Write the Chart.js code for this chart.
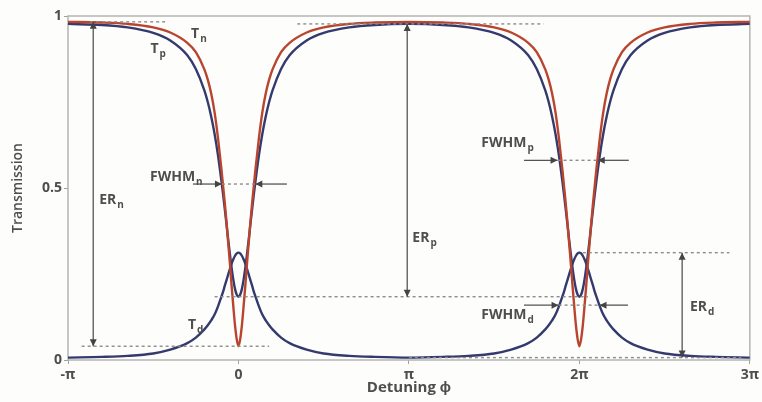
<!DOCTYPE html>
<html>
<head>
<meta charset="utf-8">
<script src="https://cdn.jsdelivr.net/npm/chart.js@4.4.1/dist/chart.umd.min.js"></script>
<style>
  html, body { margin: 0; padding: 0; background: #fdfdfb; }
  canvas { display: block; }
</style>
</head>
<body>
<canvas id="graficoAnillo" width="762" height="402"></canvas>
<script>
// Desintonía en unidades de π (de -π a 3π)
const fase = [
  -1, -0.8, -0.65, -0.5, -0.4, -0.3, -0.25, -0.2, -0.18, -0.16, -0.14, -0.12,
  -0.1, -0.09, -0.08, -0.07, -0.06, -0.05, -0.04, -0.03, -0.02, -0.01, 0,
  0.01, 0.02, 0.03, 0.04, 0.05, 0.06, 0.07, 0.08, 0.09, 0.1, 0.12, 0.14,
  0.16, 0.18, 0.2, 0.25, 0.3, 0.4, 0.5, 0.65, 0.8, 1,
  1.2, 1.35, 1.5, 1.6, 1.7, 1.75, 1.8, 1.82, 1.84, 1.86, 1.88, 1.9,
  1.91, 1.92, 1.93, 1.94, 1.95, 1.96, 1.97, 1.98, 1.99, 2,
  2.01, 2.02, 2.03, 2.04, 2.05, 2.06, 2.07, 2.08, 2.09, 2.1, 2.12, 2.14,
  2.16, 2.18, 2.2, 2.25, 2.3, 2.4, 2.5, 2.65, 2.8, 3
];

// T_n (rojo)
const transN = [
  0.983, 0.981, 0.977, 0.967, 0.952, 0.922, 0.895, 0.845, 0.815, 0.775, 0.72, 0.645,
  0.555, 0.505, 0.455, 0.40, 0.34, 0.28, 0.215, 0.155, 0.10, 0.06, 0.04,
  0.06, 0.10, 0.155, 0.215, 0.28, 0.34, 0.40, 0.455, 0.505, 0.555, 0.645, 0.72,
  0.775, 0.815, 0.845, 0.895, 0.922, 0.952, 0.967, 0.977, 0.981, 0.983,
  0.981, 0.977, 0.967, 0.952, 0.922, 0.895, 0.845, 0.815, 0.775, 0.72, 0.645, 0.555,
  0.505, 0.455, 0.40, 0.34, 0.28, 0.215, 0.155, 0.10, 0.06, 0.04,
  0.06, 0.10, 0.155, 0.215, 0.28, 0.34, 0.40, 0.455, 0.505, 0.555, 0.645, 0.72,
  0.775, 0.815, 0.845, 0.895, 0.922, 0.952, 0.967, 0.977, 0.981, 0.983
];

// T_p (azul, puerto de paso)
const transP = [
  0.977, 0.974, 0.967, 0.951, 0.929, 0.886, 0.846, 0.784, 0.750, 0.708, 0.657, 0.595,
  0.521, 0.481, 0.438, 0.394, 0.349, 0.307, 0.267, 0.233, 0.206, 0.190, 0.184,
  0.190, 0.206, 0.233, 0.267, 0.307, 0.349, 0.394, 0.438, 0.481, 0.521, 0.595, 0.657,
  0.708, 0.750, 0.784, 0.846, 0.886, 0.929, 0.951, 0.967, 0.974, 0.977,
  0.974, 0.967, 0.951, 0.929, 0.886, 0.846, 0.784, 0.750, 0.708, 0.657, 0.595, 0.521,
  0.481, 0.438, 0.394, 0.349, 0.307, 0.267, 0.233, 0.206, 0.190, 0.184,
  0.190, 0.206, 0.233, 0.267, 0.307, 0.349, 0.394, 0.438, 0.481, 0.521, 0.595, 0.657,
  0.708, 0.750, 0.784, 0.846, 0.886, 0.929, 0.951, 0.967, 0.974, 0.977
];

// T_d (azul, puerto de caída)
const transD = [
  0.007, 0.009, 0.012, 0.019, 0.030, 0.049, 0.065, 0.089, 0.101, 0.115, 0.132, 0.156,
  0.184, 0.199, 0.216, 0.232, 0.249, 0.265, 0.280, 0.293, 0.303, 0.310, 0.312,
  0.310, 0.303, 0.293, 0.280, 0.265, 0.249, 0.232, 0.216, 0.199, 0.184, 0.156, 0.132,
  0.115, 0.101, 0.089, 0.065, 0.049, 0.030, 0.019, 0.012, 0.009, 0.007,
  0.009, 0.012, 0.019, 0.030, 0.049, 0.065, 0.089, 0.101, 0.115, 0.132, 0.156, 0.184,
  0.199, 0.216, 0.232, 0.249, 0.265, 0.280, 0.293, 0.303, 0.310, 0.312,
  0.310, 0.303, 0.293, 0.280, 0.265, 0.249, 0.232, 0.216, 0.199, 0.184, 0.156, 0.132,
  0.115, 0.101, 0.089, 0.065, 0.049, 0.030, 0.019, 0.012, 0.009, 0.007
];

const ticksFase = [-1, 0, 1, 2, 3];
const etiquetasFase = ['-π', '0', 'π', '2π', '3π'];
const ticksTrans = [0, 0.5, 1];
const etiquetasTrans = ['0', '0.5', '1'];

const ROJO = '#b9452f';
const AZUL = '#343a6e';
const GRIS = '#4e4e4e';
const FUENTE = "'Open Sans', sans-serif";

function puntos(valores) {
  return fase.map((f, i) => ({ x: f, y: valores[i] }));
}

// Marco gris alrededor del área del gráfico
const marco = {
  id: 'marco',
  beforeDatasetsDraw(chart) {
    const { ctx, chartArea: a } = chart;
    ctx.save();
    ctx.strokeStyle = '#b4b4b4';
    ctx.lineWidth = 1.5;
    ctx.strokeRect(a.left, a.top, a.right - a.left, a.bottom - a.top);
    ctx.restore();
  }
};

// Flechas, líneas discontinuas y rótulos (ER, FWHM, T)
const anotaciones = {
  id: 'anotaciones',
  afterDatasetsDraw(chart) {
    const { ctx, scales: { x, y } } = chart;
    const px = v => x.getPixelForValue(v);
    const py = v => y.getPixelForValue(v);

    const nMax = Math.max(...transN), nMin = Math.min(...transN);
    const pMax = Math.max(...transP), pMin = Math.min(...transP);
    const dMax = Math.max(...transD), dMin = Math.min(...transD);

    function linea(x1, y1, x2, y2, discontinua) {
      ctx.save();
      ctx.beginPath();
      if (discontinua) {
        ctx.setLineDash([3, 3]);
        ctx.strokeStyle = '#8c8c8c';
        ctx.lineWidth = 1.4;
      } else {
        ctx.strokeStyle = '#555';
        ctx.lineWidth = 1.3;
      }
      ctx.moveTo(px(x1), py(y1));
      ctx.lineTo(px(x2), py(y2));
      ctx.stroke();
      ctx.restore();
    }

    function punta(xv, yv, dir) {
      const X = px(xv), Y = py(yv), l = 7, w = 3.5;
      ctx.save();
      ctx.fillStyle = '#444';
      ctx.beginPath();
      ctx.moveTo(X, Y);
      if (dir === 'arriba') { ctx.lineTo(X - w, Y + l); ctx.lineTo(X + w, Y + l); }
      if (dir === 'abajo') { ctx.lineTo(X - w, Y - l); ctx.lineTo(X + w, Y - l); }
      if (dir === 'derecha') { ctx.lineTo(X - l, Y - w); ctx.lineTo(X - l, Y + w); }
      if (dir === 'izquierda') { ctx.lineTo(X + l, Y - w); ctx.lineTo(X + l, Y + w); }
      ctx.closePath();
      ctx.fill();
      ctx.restore();
    }

    function texto(base, sub, xv, yv, alinear) {
      ctx.save();
      ctx.fillStyle = GRIS;
      ctx.textBaseline = 'middle';
      ctx.font = 'bold 14px ' + FUENTE;
      const wb = ctx.measureText(base).width;
      ctx.font = 'bold 10px ' + FUENTE;
      const ws = ctx.measureText(sub).width;
      let X = px(xv);
      if (alinear === 'derecha') X -= wb + ws + 1;
      const Y = py(yv);
      ctx.font = 'bold 14px ' + FUENTE;
      ctx.fillText(base, X, Y);
      ctx.font = 'bold 10px ' + FUENTE;
      ctx.fillText(sub, X + wb + 1, Y + 5);
      ctx.restore();
    }

    function flechaVertical(xv, arriba, abajo) {
      linea(xv, arriba, xv, abajo, false);
      punta(xv, arriba, 'arriba');
      punta(xv, abajo, 'abajo');
    }

    function fwhm(nivel, exterior1, punta1, punta2, exterior2) {
      linea(exterior1, nivel, punta1, nivel, false);
      linea(punta1, nivel, punta2, nivel, true);
      linea(exterior2, nivel, punta2, nivel, false);
      punta(punta1, nivel, 'derecha');
      punta(punta2, nivel, 'izquierda');
    }

    // líneas de referencia discontinuas
    linea(-0.87, nMax, -0.43, nMax, true);
    linea(-0.92, nMin, 0.18, nMin, true);
    linea(0.345, pMax, 1.79, pMax, true);
    linea(-0.14, pMin, 2.05, pMin, true);
    linea(2.02, dMax, 2.88, dMax, true);
    linea(1.0, dMin, 2.95, dMin, true);

    // relaciones de extinción
    flechaVertical(-0.852, nMax, nMin);
    flechaVertical(0.99, pMax, pMin);
    flechaVertical(2.603, dMax, dMin);

    // anchos a media altura
    fwhm((nMax + nMin) / 2, -0.267, -0.097, 0.099, 0.284);
    fwhm((pMax + pMin) / 2, 1.675, 1.872, 2.108, 2.29);
    fwhm((dMax + dMin) / 2, 1.675, 1.878, 2.118, 2.285);

    texto('T', 'n', -0.278, 0.948);
    texto('T', 'p', -0.516, 0.904);
    texto('T', 'd', -0.296, 0.102);
    texto('FWHM', 'n', -0.21, 0.532, 'derecha');
    texto('FWHM', 'p', 1.425, 0.631);
    texto('FWHM', 'd', 1.425, 0.131);
    texto('ER', 'n', -0.817, 0.465);
    texto('ER', 'p', 1.02, 0.355);
    texto('ER', 'd', 2.649, 0.154);
  }
};

// Títulos de los ejes
const titulos = {
  id: 'titulos',
  afterDraw(chart) {
    const { ctx, chartArea: a } = chart;
    ctx.save();
    ctx.fillStyle = GRIS;
    ctx.textAlign = 'center';
    ctx.textBaseline = 'middle';
    ctx.font = '600 14px ' + FUENTE;
    ctx.translate(18, (a.top + a.bottom) / 2);
    ctx.rotate(-Math.PI / 2);
    ctx.fillText('Transmission', 0, 0);
    ctx.restore();

    ctx.save();
    ctx.fillStyle = GRIS;
    ctx.textAlign = 'center';
    ctx.textBaseline = 'middle';
    ctx.font = 'bold 15px ' + FUENTE;
    ctx.fillText('Detuning ϕ', (a.left + a.right) / 2, a.bottom + 28);
    ctx.restore();
  }
};

function configuracionGrafica() {
  return {
    type: 'line',
    data: {
      datasets: [
        { label: 'T_n', data: puntos(transN), borderColor: ROJO, borderWidth: 2.4 },
        { label: 'T_p', data: puntos(transP), borderColor: AZUL, borderWidth: 2.4 },
        { label: 'T_d', data: puntos(transD), borderColor: AZUL, borderWidth: 2.4 }
      ]
    },
    options: {
      responsive: false,
      animation: false,
      devicePixelRatio: 1,
      layout: { padding: { top: 16, right: 5, left: 0, bottom: 0 } },
      elements: {
        point: { radius: 0 },
        line: { cubicInterpolationMode: 'monotone', fill: false }
      },
      plugins: { legend: { display: false }, tooltip: { enabled: false } },
      scales: {
        x: {
          type: 'linear',
          min: -1,
          max: 3,
          afterBuildTicks: s => { s.ticks = ticksFase.map(v => ({ value: v })); },
          afterFit: s => { s.height = 42; },
          ticks: {
            padding: 3,
            color: GRIS,
            font: { family: FUENTE, size: 14, weight: 'bold' },
            callback: v => etiquetasFase[ticksFase.indexOf(v)]
          },
          grid: { drawOnChartArea: false, tickLength: 4, color: '#a0a0a0' },
          border: { display: false }
        },
        y: {
          min: 0,
          max: 1,
          afterBuildTicks: s => { s.ticks = ticksTrans.map(v => ({ value: v })); },
          afterFit: s => { s.width = 68; },
          ticks: {
            padding: 2,
            color: GRIS,
            font: { family: FUENTE, size: 14, weight: 'bold' },
            callback: v => etiquetasTrans[ticksTrans.indexOf(v)]
          },
          grid: { drawOnChartArea: false, tickLength: 4, color: '#a0a0a0' },
          border: { display: false }
        }
      }
    },
    plugins: [marco, anotaciones, titulos]
  };
}

document.addEventListener('DOMContentLoaded', () => {
  const lienzo = document.getElementById('graficoAnillo');
  if (lienzo) {
    new Chart(lienzo, configuracionGrafica());
  } else {
    console.error('No se encontró el canvas graficoAnillo');
  }
});
</script>
</body>
</html>
